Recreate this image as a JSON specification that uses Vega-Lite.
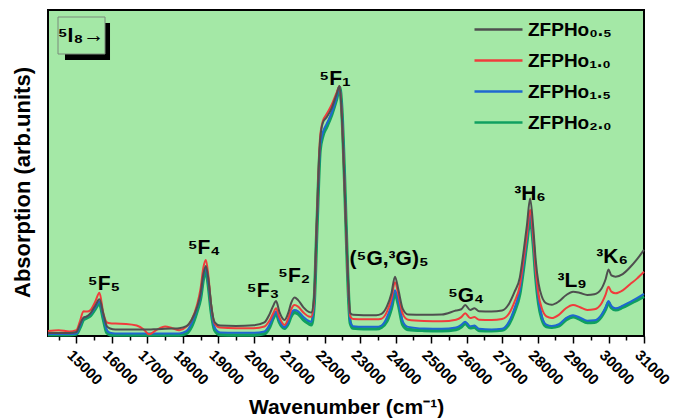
{
  "$schema": "https://vega.github.io/schema/vega-lite/v6.json",
  "width": 596,
  "height": 326,
  "autosize": {"type": "none"},
  "padding": {"left": 48, "top": 10, "right": 39, "bottom": 82},
  "background": "white",
  "config": {
    "view": {"fill": "#a4e8a6", "stroke": "black", "strokeWidth": 2},
    "font": "Liberation Sans"
  },
  "datasets": {
    "spectra": [
      {"w":14200,"g":0.9,"r":1.5,"b":0.6,"n":0.4},
      {"w":14500,"g":0.9,"r":1.8,"b":0.6,"n":0.4},
      {"w":14800,"g":0.9,"r":1.4,"b":0.6,"n":0.4},
      {"w":15000,"g":1.2,"r":1.8,"b":0.8,"n":0.6},
      {"w":15100,"g":3.5,"r":4.5,"b":3.0,"n":2.5},
      {"w":15200,"g":5.6,"r":7.6,"b":5.5,"n":5.0},
      {"w":15300,"g":6.0,"r":7.5,"b":6.0,"n":5.6},
      {"w":15400,"g":7.0,"r":8.0,"b":6.8,"n":6.3},
      {"w":15530,"g":9.3,"r":10.5,"b":8.8,"n":8.3},
      {"w":15650,"g":11.3,"r":13.3,"b":10.6,"n":10.0},
      {"w":15760,"g":6.8,"r":7.0,"b":6.0,"n":5.2},
      {"w":15860,"g":3.0,"r":4.2,"b":1.8,"n":1.0},
      {"w":15950,"g":2.3,"r":3.9,"b":1.0,"n":0.4},
      {"w":16100,"g":2.0,"r":3.8,"b":0.8,"n":0.3},
      {"w":16400,"g":2.0,"r":3.7,"b":0.8,"n":0.3},
      {"w":16700,"g":2.0,"r":3.2,"b":0.8,"n":0.3},
      {"w":16900,"g":2.0,"r":2.0,"b":0.8,"n":0.3},
      {"w":17050,"g":2.0,"r":0.5,"b":0.8,"n":0.3},
      {"w":17250,"g":2.1,"r":1.8,"b":0.8,"n":0.3},
      {"w":17500,"g":2.2,"r":2.9,"b":0.8,"n":0.3},
      {"w":17700,"g":2.3,"r":2.4,"b":0.8,"n":0.3},
      {"w":17900,"g":2.4,"r":1.8,"b":0.8,"n":0.3},
      {"w":18100,"g":3.0,"r":2.8,"b":1.5,"n":0.8},
      {"w":18250,"g":5.0,"r":5.0,"b":4.0,"n":3.0},
      {"w":18400,"g":8.8,"r":9.5,"b":8.5,"n":7.5},
      {"w":18500,"g":13.0,"r":14.5,"b":12.5,"n":11.5},
      {"w":18580,"g":19.0,"r":21.0,"b":18.5,"n":17.5},
      {"w":18650,"g":21.5,"r":23.3,"b":20.8,"n":20.0},
      {"w":18720,"g":17.5,"r":18.5,"b":16.5,"n":15.5},
      {"w":18800,"g":9.5,"r":9.5,"b":8.5,"n":7.5},
      {"w":18900,"g":4.2,"r":3.8,"b":2.5,"n":1.8},
      {"w":19050,"g":3.2,"r":2.6,"b":1.1,"n":0.4},
      {"w":19500,"g":3.1,"r":2.4,"b":1.0,"n":0.3},
      {"w":20000,"g":3.3,"r":2.4,"b":1.0,"n":0.3},
      {"w":20300,"g":4.2,"r":2.9,"b":1.4,"n":0.7},
      {"w":20450,"g":6.8,"r":4.8,"b":3.5,"n":2.8},
      {"w":20550,"g":9.3,"r":7.0,"b":6.0,"n":5.5},
      {"w":20630,"g":10.7,"r":8.5,"b":7.5,"n":7.0},
      {"w":20720,"g":7.5,"r":5.8,"b":4.8,"n":4.3},
      {"w":20870,"g":4.9,"r":3.4,"b":2.7,"n":2.4},
      {"w":20970,"g":7.0,"r":5.3,"b":4.3,"n":3.8},
      {"w":21050,"g":10.0,"r":8.0,"b":6.8,"n":6.0},
      {"w":21150,"g":11.8,"r":9.5,"b":8.0,"n":7.2},
      {"w":21250,"g":11.0,"r":9.0,"b":7.6,"n":6.8},
      {"w":21400,"g":8.8,"r":7.2,"b":5.8,"n":5.0},
      {"w":21550,"g":7.4,"r":6.0,"b":4.6,"n":3.8},
      {"w":21620,"g":7.2,"r":5.9,"b":4.4,"n":3.4},
      {"w":21700,"g":12.0,"r":11.0,"b":10.0,"n":9.5},
      {"w":21780,"g":36.0,"r":36.0,"b":34.0,"n":33.0},
      {"w":21870,"g":60.0,"r":61.0,"b":58.0,"n":57.0},
      {"w":21950,"g":65.5,"r":66.0,"b":62.5,"n":61.5},
      {"w":22050,"g":67.0,"r":68.0,"b":65.0,"n":64.0},
      {"w":22200,"g":70.0,"r":71.0,"b":68.5,"n":68.0},
      {"w":22330,"g":74.0,"r":74.5,"b":73.0,"n":72.5},
      {"w":22420,"g":76.7,"r":76.7,"b":76.5,"n":76.3},
      {"w":22480,"g":68.0,"r":68.0,"b":70.0,"n":70.0},
      {"w":22560,"g":46.0,"r":46.0,"b":48.0,"n":48.0},
      {"w":22640,"g":22.0,"r":21.0,"b":21.0,"n":21.0},
      {"w":22720,"g":7.0,"r":6.0,"b":4.5,"n":4.0},
      {"w":22800,"g":6.5,"r":5.2,"b":3.0,"n":2.4},
      {"w":23100,"g":6.4,"r":5.1,"b":2.8,"n":2.2},
      {"w":23450,"g":6.4,"r":5.1,"b":2.8,"n":2.2},
      {"w":23600,"g":6.8,"r":5.3,"b":3.2,"n":2.7},
      {"w":23750,"g":9.0,"r":7.3,"b":5.6,"n":4.5},
      {"w":23880,"g":13.0,"r":11.5,"b":9.5,"n":8.5},
      {"w":23980,"g":18.2,"r":16.5,"b":14.0,"n":13.0},
      {"w":24080,"g":14.0,"r":12.5,"b":10.5,"n":9.5},
      {"w":24200,"g":8.3,"r":6.8,"b":4.5,"n":3.5},
      {"w":24350,"g":6.6,"r":5.0,"b":2.8,"n":2.0},
      {"w":24800,"g":6.5,"r":4.6,"b":2.3,"n":1.7},
      {"w":25300,"g":6.6,"r":4.5,"b":2.2,"n":1.6},
      {"w":25700,"g":7.8,"r":5.0,"b":2.6,"n":2.0},
      {"w":25850,"g":8.2,"r":5.8,"b":3.4,"n":2.8},
      {"w":25960,"g":9.5,"r":7.0,"b":4.4,"n":3.9},
      {"w":26100,"g":8.0,"r":5.5,"b":3.0,"n":2.5},
      {"w":26220,"g":8.5,"r":5.8,"b":3.2,"n":2.7},
      {"w":26350,"g":7.6,"r":5.0,"b":2.2,"n":1.7},
      {"w":26700,"g":7.5,"r":4.9,"b":2.0,"n":1.6},
      {"w":27000,"g":7.8,"r":5.2,"b":2.2,"n":1.8},
      {"w":27200,"g":10.0,"r":7.0,"b":4.5,"n":3.8},
      {"w":27350,"g":13.5,"r":10.5,"b":8.5,"n":7.5},
      {"w":27500,"g":18.0,"r":15.5,"b":14.0,"n":13.0},
      {"w":27600,"g":25.4,"r":23.0,"b":21.5,"n":20.5},
      {"w":27700,"g":34.0,"r":31.0,"b":30.0,"n":29.0},
      {"w":27790,"g":42.2,"r":38.7,"b":37.6,"n":36.1},
      {"w":27880,"g":33.0,"r":30.0,"b":29.0,"n":28.0},
      {"w":27950,"g":23.0,"r":20.0,"b":19.0,"n":18.0},
      {"w":28030,"g":16.0,"r":12.5,"b":11.0,"n":10.0},
      {"w":28120,"g":12.1,"r":8.5,"b":6.0,"n":5.3},
      {"w":28250,"g":10.0,"r":6.0,"b":3.5,"n":2.9},
      {"w":28400,"g":9.6,"r":5.5,"b":3.1,"n":2.7},
      {"w":28600,"g":10.6,"r":6.5,"b":3.6,"n":3.1},
      {"w":28800,"g":12.5,"r":8.5,"b":5.5,"n":5.0},
      {"w":29000,"g":13.6,"r":9.5,"b":6.4,"n":5.9},
      {"w":29200,"g":13.2,"r":8.8,"b":5.6,"n":5.1},
      {"w":29400,"g":12.6,"r":8.0,"b":4.7,"n":4.1},
      {"w":29600,"g":12.8,"r":8.2,"b":4.8,"n":4.2},
      {"w":29800,"g":14.5,"r":10.0,"b":6.5,"n":6.0},
      {"w":29920,"g":17.5,"r":12.8,"b":8.8,"n":8.3},
      {"w":30000,"g":20.4,"r":15.1,"b":10.7,"n":10.2},
      {"w":30080,"g":18.6,"r":13.6,"b":9.2,"n":8.7},
      {"w":30200,"g":18.2,"r":13.1,"b":8.5,"n":8.0},
      {"w":30400,"g":19.0,"r":14.0,"b":9.3,"n":8.8},
      {"w":30600,"g":21.0,"r":15.8,"b":10.4,"n":9.9},
      {"w":30800,"g":23.5,"r":17.6,"b":11.6,"n":11.0},
      {"w":31000,"g":26.4,"r":19.7,"b":12.9,"n":12.1}
    ],
    "labels": [
      {"x":15779,"y":14.1,"t":"⁵F₅"},
      {"x":18598,"y":25.2,"t":"⁵F₄"},
      {"x":20261,"y":12.1,"t":"⁵F₃"},
      {"x":21135,"y":16.7,"t":"⁵F₂"},
      {"x":22291,"y":77.0,"t":"⁵F₁"},
      {"x":23813,"y":21.8,"t":"(⁵G,³G)₅"},
      {"x":25983,"y":10.5,"t":"⁵G₄"},
      {"x":27788,"y":41.7,"t":"³H₆"},
      {"x":28972,"y":15.1,"t":"³L₉"},
      {"x":30100,"y":22.3,"t":"³K₆"},
      {"x":15130,"y":90.3,"t":"⁵I₈→"}
    ]
  },
  "resolve": {"axis": {"x": "independent"}},
  "layer": [
    {
      "data": {"values": [{}]},
      "mark": {"type": "rect", "fill": "black"},
      "encoding": {
        "x": {"datum": 14679, "type": "quantitative",
              "scale": {"domain": [14200, 31000], "nice": false, "zero": false},
              "axis": {"orient": "bottom", "values": [14500,15500,16500,17500,18500,19500,20500,21500,22500,23500,24500,25500,26500,27500,28500,29500,30500],
                       "labels": false, "title": null, "domain": false, "grid": false, "tickSize": 4, "tickColor": "black", "tickWidth": 1.5}},
        "x2": {"datum": 15948},
        "y": {"datum": 96.0, "type": "quantitative", "scale": {"domain": [0, 100], "nice": false, "zero": false},
              "axis": {"title": "Absorption (arb.units)", "labels": false, "ticks": false, "domain": false, "grid": false,
                       "titleFontSize": 22, "titleFontWeight": "bold", "titleColor": "black",
                       "titleX": -26, "titleY": 172, "titleBaseline": "middle", "titleAlign": "center", "titleAngle": -90}},
        "y2": {"datum": 84.7}
      }
    },
    {
      "data": {"values": [{}]},
      "mark": {"type": "rect", "fill": "#a4e8a6", "stroke": "#7a8a7a", "strokeWidth": 1},
      "encoding": {
        "x": {"datum": 14482, "type": "quantitative", "axis": null},
        "x2": {"datum": 15807},
        "y": {"datum": 97.85, "type": "quantitative"},
        "y2": {"datum": 86.5}
      }
    },
    {
      "data": {"name": "spectra"},
      "mark": {"type": "line", "interpolate": "monotone", "color": "#10a060", "strokeWidth": 3.4},
      "encoding": {
        "x": {"field": "w", "type": "quantitative", "axis": null},
        "y": {"field": "n", "type": "quantitative"}
      }
    },
    {
      "data": {"name": "spectra"},
      "transform": [{"fold": ["n", "b", "r", "g"], "as": ["s", "v"]}],
      "mark": {"type": "line", "interpolate": "monotone", "strokeWidth": 2},
      "encoding": {
        "x": {"field": "w", "type": "quantitative",
              "scale": {"domain": [14200, 31000], "nice": false, "zero": false},
              "axis": {"orient": "bottom", "values": [15000,16000,17000,18000,19000,20000,21000,22000,23000,24000,25000,26000,27000,28000,29000,30000,31000],
                       "format": "d", "grid": false, "domain": false,
                       "tickSize": 7, "tickColor": "black", "tickWidth": 1.5,
                       "labelAngle": 45, "labelAlign": "center", "labelBaseline": "middle",
                       "labelOffset": 8, "labelPadding": 24, "labelFontSize": 15, "labelFontWeight": "bold", "labelColor": "black",
                       "labelOverlap": false, "labelFlush": false, "labelBound": false,
                       "title": "Wavenumber (cm⁻¹)", "titleFontSize": 21, "titleFontWeight": "bold", "titleColor": "black",
                       "titleBaseline": "alphabetic", "titleY": 77}},
        "y": {"field": "v", "type": "quantitative"},
        "color": {"field": "s", "type": "nominal",
                  "scale": {"domain": ["g", "r", "b", "n"], "range": ["#4f4f4f", "#f03c3c", "#1f68d0", "#10a060"]},
                  "legend": {"orient": "none", "legendX": 437, "legendY": 6, "title": null, "padding": 0,
                             "symbolType": "M-2,0H2", "symbolSize": 576, "symbolStrokeWidth": 2.5,
                             "labelOffset": 16, "labelFontSize": 19, "labelFontWeight": "bold", "labelColor": "black",
                             "rowPadding": 7, "labelLimit": 200,
                             "labelExpr": "datum.label == 'g' ? 'ZFPHo₀.₅' : datum.label == 'r' ? 'ZFPHo₁.₀' : datum.label == 'b' ? 'ZFPHo₁.₅' : 'ZFPHo₂.₀'"}}
      }
    },
    {
      "data": {"name": "labels"},
      "mark": {"type": "text", "fontSize": 21, "fontWeight": "bold", "align": "center", "baseline": "alphabetic", "color": "black"},
      "encoding": {
        "x": {"field": "x", "type": "quantitative", "axis": null},
        "y": {"field": "y", "type": "quantitative"},
        "text": {"field": "t"}
      }
    }
  ]
}
